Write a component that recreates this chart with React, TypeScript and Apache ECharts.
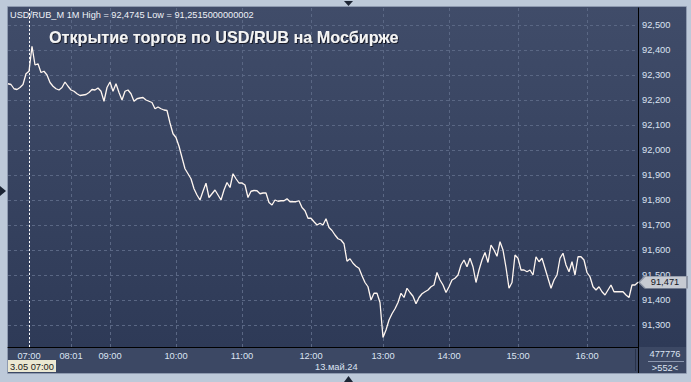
import React, { useEffect, useRef } from "react";
import * as echarts from "echarts";

const prices: number[] = [
  92.265, 92.262, 92.245, 92.242, 92.25, 92.262, 92.305, 92.315, 92.415, 92.34,
  92.345, 92.31, 92.315, 92.3, 92.27, 92.255, 92.245, 92.24, 92.25, 92.272,
  92.255, 92.24, 92.235, 92.225, 92.218, 92.22, 92.222, 92.23, 92.242, 92.24,
  92.248, 92.235, 92.195, 92.25, 92.272, 92.235, 92.265, 92.23, 92.2, 92.235,
  92.24, 92.225, 92.195, 92.205, 92.208, 92.21, 92.2, 92.195, 92.19, 92.165,
  92.172, 92.165, 92.16, 92.158, 92.108, 92.065, 92.05, 92.015, 91.97, 91.925,
  91.905, 91.885, 91.845, 91.82, 91.8, 91.835, 91.867, 91.81, 91.825, 91.84,
  91.82, 91.8, 91.84, 91.87, 91.85, 91.905, 91.885, 91.868, 91.868, 91.86,
  91.81, 91.835, 91.838, 91.837, 91.825, 91.828, 91.828, 91.79, 91.78, 91.8,
  91.795, 91.797, 91.797, 91.805, 91.793, 91.793, 91.793, 91.797, 91.77, 91.757,
  91.727, 91.727, 91.713, 91.7, 91.707, 91.7, 91.725, 91.69, 91.678, 91.66,
  91.645, 91.64, 91.625, 91.555, 91.565, 91.547, 91.535, 91.527, 91.497, 91.47,
  91.453, 91.4, 91.427, 91.427, 91.39, 91.25, 91.28, 91.32, 91.345, 91.365,
  91.39, 91.427, 91.41, 91.447, 91.43, 91.415, 91.385, 91.41, 91.425, 91.433,
  91.44, 91.453, 91.46, 91.51, 91.48, 91.46, 91.43, 91.453, 91.48, 91.487,
  91.5, 91.54, 91.56, 91.533, 91.567, 91.533, 91.47, 91.52, 91.56, 91.59,
  91.55, 91.62, 91.6, 91.575, 91.633, 91.6, 91.53, 91.447, 91.47, 91.58,
  91.567, 91.52, 91.52, 91.513, 91.52, 91.5, 91.573, 91.553, 91.567, 91.527,
  91.487, 91.447, 91.48, 91.5, 91.567, 91.587, 91.54, 91.513, 91.553, 91.5,
  91.573, 91.573, 91.56, 91.51, 91.493, 91.453, 91.44, 91.453, 91.433, 91.42,
  91.44, 91.46, 91.433, 91.433, 91.433, 91.433, 91.42, 91.41, 91.46, 91.46,
  91.471,
];

const timeTickLabels = ["07:00", "08:01", "09:00", "10:00", "11:00", "12:00", "13:00", "14:00", "15:00", "16:00"];
const timeTickIndex = [7, 21, 34, 56, 78, 101, 125, 147, 170, 193];
const sessionStartIndex = 7;

const lastPrice = 91.471;
const yMin = 91.212;
const yMax = 92.568;

const headerText = "USD/RUB_M 1M High = 92,4745 Low = 91,2515000000002";
const titleText = "Открытие торгов по USD/RUB на Мосбирже";
const cursorDateText = "3.05 07:00";
const dayText = "13.май.24";
const counterTop = "477776";
const counterBottom = ">552<";

const FONT = "'Liberation Sans', Arial, sans-serif";
const LABEL = "#dbe3f2";

const fmt = (v: number) => v.toFixed(3).replace(".", ",");

export default function App() {
  const ref = useRef<HTMLDivElement>(null);
  useEffect(() => {
    if (!ref.current) return;
    const chart = echarts.init(ref.current, null, { renderer: "svg" });
    const categories = prices.map(() => "");
    timeTickIndex.forEach((idx, k) => (categories[idx] = timeTickLabels[k]));
    const tickSet = new Set(timeTickIndex);
    const lastIdx = prices.length - 1;

    chart.setOption({
      animation: false,
      backgroundColor: "#bdc9d9",
      grid: { left: 8, right: 53, top: 8, bottom: 35, containLabel: false },
      xAxis: {
        type: "category",
        data: categories,
        boundaryGap: false,
        axisLine: { show: true, lineStyle: { color: "#000000", width: 1 } },
        axisTick: { show: false },
        axisLabel: {
          interval: (i: number) => tickSet.has(i),
          color: LABEL,
          fontSize: 9.3,
          fontFamily: FONT,
          margin: 4,
        },
        splitLine: {
          show: true,
          interval: (i: number) => tickSet.has(i),
          lineStyle: { color: "#5a6784", type: [3, 3], width: 1 },
        },
      },
      yAxis: {
        type: "value",
        position: "right",
        min: yMin,
        max: yMax,
        splitNumber: 13,
        minInterval: 0.1,
        maxInterval: 0.1,
        axisLine: { show: true, lineStyle: { color: "#000000", width: 1 } },
        axisTick: { show: false },
        axisLabel: {
          showMinLabel: false,
          showMaxLabel: false,
          color: LABEL,
          fontSize: 9.3,
          fontFamily: FONT,
          margin: 4,
          formatter: (v: number) => fmt(v),
        },
        splitLine: {
          show: true,
          showMinLine: false,
          showMaxLine: false,
          lineStyle: { color: "#5a6784", type: [3, 3], width: 1 },
        },
      },
      series: [
        {
          type: "line",
          data: prices,
          showSymbol: false,
          symbol: "none",
          lineStyle: { color: "#fff6f0", width: 1.3 },
          markLine: {
            silent: true,
            symbol: "none",
            label: { show: false },
            lineStyle: { color: "#ffffff", type: [2, 2], width: 1 },
            data: [{ xAxis: sessionStartIndex }],
          },
          markPoint: {
            silent: true,
            symbol: "path://M0,6 L6,0 L48,0 L48,12 L6,12 Z",
            symbolSize: [48, 12],
            symbolKeepAspect: false,
            symbolOffset: [25, 0],
            itemStyle: { color: "#c6cad2", borderColor: "#8e96a6", borderWidth: 1 },
            label: {
              show: true,
              position: "inside",
              offset: [2, 0],
              color: "#14161e",
              fontSize: 9.3,
              fontFamily: FONT,
              formatter: () => fmt(lastPrice),
            },
            data: [{ coord: [lastIdx, lastPrice] }],
          },
        },
      ],
      graphic: [
        {
          type: "rect",
          z: -10,
          silent: true,
          shape: { x: 8, y: 7, width: 678, height: 340 },
          style: {
            fill: new echarts.graphic.LinearGradient(0, 0, 0, 1, [
              { offset: 0, color: "#404c69" },
              { offset: 1, color: "#2e3a57" },
            ]),
          },
        },
        {
          type: "rect",
          z: -10,
          silent: true,
          shape: { x: 8, y: 347, width: 678, height: 26 },
          style: { fill: "#3c4864" },
        },
        {
          type: "rect",
          z: -9,
          silent: true,
          shape: { x: 7.5, y: 6.5, width: 679, height: 367 },
          style: { fill: "none", stroke: "#8e9ab0", lineWidth: 1 },
        },
        {
          type: "line",
          z: 5,
          silent: true,
          shape: { x1: 638.5, y1: 347, x2: 638.5, y2: 373 },
          style: { stroke: "#000000", lineWidth: 1 },
        },
        {
          type: "line",
          z: 5,
          silent: true,
          shape: { x1: 635.5, y1: 349, x2: 635.5, y2: 371 },
          style: { stroke: "#28324a", lineWidth: 1 },
        },
        {
          type: "line",
          z: 5,
          silent: true,
          shape: { x1: 648, y1: 361.5, x2: 684, y2: 361.5 },
          style: { stroke: "#8a96ae", lineWidth: 1 },
        },
        {
          type: "text",
          z: 5,
          silent: true,
          x: 10,
          y: 15,
          style: {
            text: headerText,
            fill: "#eef1f7",
            fontSize: 9.2,
            fontFamily: FONT,
            verticalAlign: "middle",
          },
        },
        {
          type: "text",
          z: 5,
          silent: true,
          x: 49,
          y: 37,
          style: {
            text: titleText,
            fill: "#f4f4f4",
            fontSize: 16.2,
            fontWeight: "bold",
            fontFamily: FONT,
            verticalAlign: "middle",
            textShadowColor: "rgba(10,16,30,0.8)",
            textShadowBlur: 1,
            textShadowOffsetX: 1,
            textShadowOffsetY: 1,
          },
        },
        {
          type: "rect",
          z: 5,
          silent: true,
          shape: { x: 8, y: 360, width: 48, height: 12 },
          style: { fill: "#ebe8d2" },
        },
        {
          type: "text",
          z: 6,
          silent: true,
          x: 10,
          y: 366.5,
          style: {
            text: cursorDateText,
            fill: "#1a1a1a",
            fontSize: 9.3,
            fontFamily: FONT,
            verticalAlign: "middle",
          },
        },
        {
          type: "text",
          z: 5,
          silent: true,
          x: 315,
          y: 367,
          style: { text: dayText, fill: LABEL, fontSize: 9.3, fontFamily: FONT, verticalAlign: "middle" },
        },
        {
          type: "text",
          z: 5,
          silent: true,
          x: 665,
          y: 354,
          style: { text: counterTop, fill: LABEL, fontSize: 9.3, fontFamily: FONT, align: "center", verticalAlign: "middle" },
        },
        {
          type: "text",
          z: 5,
          silent: true,
          x: 665,
          y: 367.5,
          style: { text: counterBottom, fill: LABEL, fontSize: 9.3, fontFamily: FONT, align: "center", verticalAlign: "middle" },
        },
        {
          type: "polygon",
          silent: true,
          shape: { points: [[344, 1], [353, 1], [348.5, 6]] },
          style: { fill: "#1c2434" },
        },
        {
          type: "polygon",
          silent: true,
          shape: { points: [[344, 382], [353, 382], [348.5, 376]] },
          style: { fill: "#1c2434" },
        },
        {
          type: "polygon",
          silent: true,
          shape: { points: [[0, 186], [0, 196], [6, 191]] },
          style: { fill: "#1c2434" },
        },
      ],
    });
    return () => chart.dispose();
  }, []);
  return (
    <div
      ref={ref}
      style={{ position: "fixed", left: 0, top: 0, width: 691, height: 382 }}
    />
  );
}
